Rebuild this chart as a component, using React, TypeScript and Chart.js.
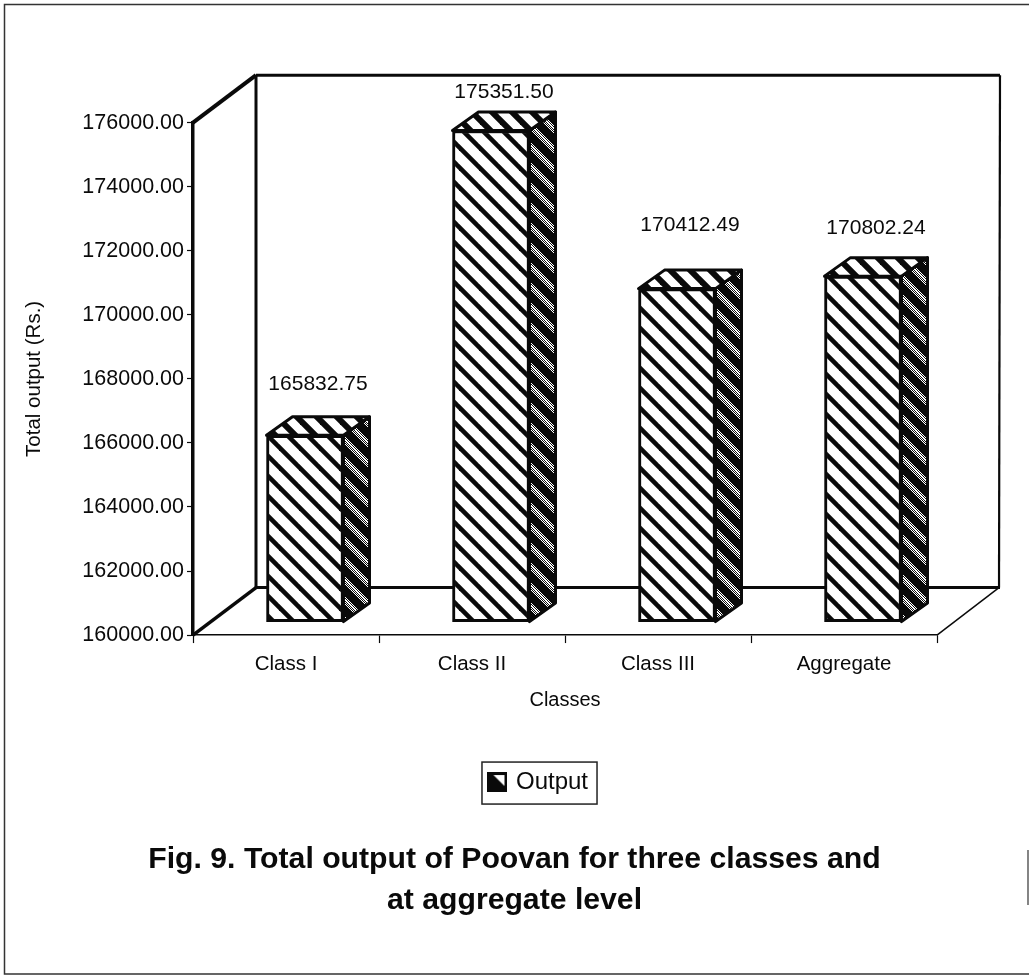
import React, { useEffect, useRef } from "react";
import { Chart, registerables } from "chart.js";

Chart.register(...registerables);

const categories = ["Class I", "Class II", "Class III", "Aggregate"];
const outputValues = [165832.75, 175351.5, 170412.49, 170802.24];
const baseValue = 160000;
const seriesName = "Output";
const figureTitle = [
  "Fig. 9. Total output of Poovan for three classes and",
  "at aggregate level",
];
const yAxisTitle = "Total output (Rs.)";
const xAxisTitle = "Classes";
// Height of each value label above its bar's value position.
const labelLift = [64, 51, 76, 61];

const FONT = "'Liberation Sans', Arial, sans-serif";
const INK = "#0a0a0a";

// Pseudo-3D geometry, in pixels.
const ROOM_DX = 63;
const ROOM_DY = 47.5;
const BAR_SHIFT_X = 19;
const BAR_SHIFT_Y = 13;
const BAR_DEPTH_X = 26;
const BAR_DEPTH_Y = 18.5;
const LEGEND_SHIFT = 71;
const TITLE_SHIFT = 46;

function tile(size: number, paint: (c: CanvasRenderingContext2D) => void) {
  const cv = document.createElement("canvas");
  cv.width = size;
  cv.height = size;
  paint(cv.getContext("2d")!);
  return cv;
}

function stripedTile(width: number) {
  return tile(20, (c) => {
    c.fillStyle = "#fff";
    c.fillRect(0, 0, 20, 20);
    c.strokeStyle = INK;
    c.lineWidth = width;
    for (let k = -1; k <= 1; k++) {
      c.beginPath();
      c.moveTo(-5, -5 + k * 20);
      c.lineTo(25, 25 + k * 20);
      c.stroke();
    }
  });
}

// Dark face with a speckled light band running through it.
function speckledTile() {
  return tile(20, (c) => {
    c.fillStyle = INK;
    c.fillRect(0, 0, 20, 20);
    c.fillStyle = "#fff";
    for (let y = 0; y < 20; y++) {
      for (let x = 0; x < 20; x++) {
        const band = (x - y + 40) % 20;
        if (band >= 1 && band <= 9 && (x * 7 + y * 13) % 5 < 3) c.fillRect(x, y, 1, 1);
      }
    }
  });
}

function legendSwatch() {
  return tile(20, (c) => {
    c.fillStyle = INK;
    c.fillRect(0, 0, 20, 20);
    c.fillStyle = "#fff";
    c.beginPath();
    c.moveTo(6, 3);
    c.lineTo(17, 3);
    c.lineTo(17, 14);
    c.closePath();
    c.fill();
  });
}

function polyline(c: CanvasRenderingContext2D, width: number, pts: number[][]) {
  c.lineWidth = width;
  c.beginPath();
  pts.forEach(([x, y], i) => (i ? c.lineTo(x, y) : c.moveTo(x, y)));
  c.stroke();
}

const roomPlugin = {
  id: "room",
  beforeDraw(chart: any) {
    const c = chart.ctx;
    c.save();
    c.strokeStyle = "#333";
    polyline(c, 1.5, [[1029, 4.5], [4.5, 4.5], [4.5, 974], [1029, 974]]);
    polyline(c, 1.2, [[1028, 850], [1028, 905]]);
    c.restore();
  },
  beforeDatasetsDraw(chart: any) {
    const { left, right, top, bottom } = chart.chartArea;
    const c = chart.ctx;
    const bx = left + ROOM_DX;
    const rx = right + ROOM_DX;
    const by = bottom - ROOM_DY;
    const ty = top - ROOM_DY;
    c.save();
    c.strokeStyle = INK;
    c.lineJoin = "miter";
    polyline(c, 4, [[left, top], [bx, ty]]);
    polyline(c, 3, [[bx, ty], [rx, ty]]);
    polyline(c, 3, [[bx, ty], [bx, by], [rx, by]]);
    polyline(c, 2.2, [[rx, ty], [rx - 1, by]]);
    polyline(c, 3.5, [[left, bottom], [bx, by]]);
    polyline(c, 1.5, [[right, bottom], [rx - 1, by]]);
    c.restore();
  },
  beforeDatasetDraw(chart: any) {
    chart.ctx.save();
    chart.ctx.translate(BAR_SHIFT_X, -BAR_SHIFT_Y);
  },
  afterDatasetDraw(chart: any) {
    chart.ctx.restore();
  },
  afterDatasetsDraw(chart: any) {
    const c = chart.ctx;
    const bars = chart.getDatasetMeta(0).data;
    const { side, roof } = chart.options.plugins.room;
    c.save();
    c.strokeStyle = INK;
    c.lineWidth = 3;
    c.lineJoin = "round";
    bars.forEach((bar: any, i: number) => {
      const half = bar.width / 2;
      const l = bar.x - half + BAR_SHIFT_X;
      const r = bar.x + half + BAR_SHIFT_X;
      const t = bar.y - BAR_SHIFT_Y;
      const b = bar.base - BAR_SHIFT_Y;
      const faces: [any, number[][]][] = [
        [side, [[r, t], [r + BAR_DEPTH_X, t - BAR_DEPTH_Y], [r + BAR_DEPTH_X, b - BAR_DEPTH_Y], [r, b]]],
        [roof, [[l, t], [l + BAR_DEPTH_X, t - BAR_DEPTH_Y], [r + BAR_DEPTH_X, t - BAR_DEPTH_Y], [r, t]]],
      ];
      faces.forEach(([fill, pts]) => {
        c.fillStyle = fill;
        c.beginPath();
        pts.forEach(([x, y], k) => (k ? c.lineTo(x, y) : c.moveTo(x, y)));
        c.closePath();
        c.fill();
        c.stroke();
      });
      c.fillStyle = INK;
      c.font = `21px ${FONT}`;
      c.textAlign = "center";
      c.textBaseline = "middle";
      c.fillText(outputValues[i].toFixed(2), bar.x + 32, bar.y - labelLift[i]);
    });
    c.restore();
  },
  afterLayout(chart: any) {
    const legend = chart.legend;
    legend.left += LEGEND_SHIFT;
    legend.right += LEGEND_SHIFT;
    legend.legendHitBoxes.forEach((h: any) => (h.left += LEGEND_SHIFT));
    chart.titleBlock.left += TITLE_SHIFT;
    chart.titleBlock.right += TITLE_SHIFT;
  },
  afterDraw(chart: any) {
    const hit = chart.legend.legendHitBoxes[0];
    const c = chart.ctx;
    c.save();
    c.strokeStyle = "#222";
    c.lineWidth = 1.5;
    c.strokeRect(hit.left - 9, chart.legend.top, hit.width + 18, chart.legend.height);
    c.restore();
  },
};

export default function App() {
  const canvasRef = useRef<HTMLCanvasElement>(null);

  useEffect(() => {
    const canvas = canvasRef.current!;
    const ctx = canvas.getContext("2d")!;
    const front = ctx.createPattern(stripedTile(4.6), "repeat")!;
    const roof = ctx.createPattern(stripedTile(6), "repeat")!;
    const side = ctx.createPattern(speckledTile(), "repeat")!;
    const swatch = legendSwatch();

    const chart = new Chart(canvas, {
      type: "bar",
      data: {
        labels: categories,
        datasets: [
          {
            label: seriesName,
            data: outputValues,
            base: baseValue,
            backgroundColor: front,
            borderColor: INK,
            borderWidth: 3,
            borderSkipped: false,
            barThickness: 77,
            clip: false,
            pointStyle: swatch,
          } as any,
        ],
      },
      options: {
        animation: false,
        responsive: false,
        devicePixelRatio: 1,
        layout: { padding: { top: 122.7, right: 92, left: 0, bottom: 33.3 } },
        scales: {
          x: {
            afterFit: (s: any) => {
              s.height = 127;
            },
            grid: {
              drawOnChartArea: false,
              color: INK,
              tickLength: 8,
              tickWidth: 1.2,
            },
            border: { color: INK, width: 1.6 },
            ticks: {
              color: INK,
              padding: 9,
              maxRotation: 0,
              autoSkip: false,
              font: { family: FONT, size: 20.5 },
            },
            title: {
              display: true,
              text: xAxisTitle,
              color: INK,
              padding: { top: 0, bottom: 50 },
              font: { family: FONT, size: 20 },
            },
          },
          y: {
            min: baseValue,
            max: 176000,
            afterFit: (s: any) => {
              s.width = 193;
            },
            grid: {
              drawOnChartArea: false,
              color: INK,
              tickLength: 6,
              tickWidth: 1.2,
            },
            border: { color: INK, width: 3.5 },
            ticks: {
              color: INK,
              stepSize: 2000,
              padding: 3,
              font: { family: FONT, size: 21.5 },
              callback: (v: any) => Number(v).toFixed(2),
            },
            title: {
              display: true,
              text: yAxisTitle,
              color: INK,
              padding: { top: 22, bottom: 0 },
              font: { family: FONT, size: 20.5 },
            },
          },
        },
        plugins: {
          tooltip: { enabled: false },
          room: { side, roof },
          legend: {
            display: true,
            position: "bottom",
            labels: {
              usePointStyle: true,
              pointStyleWidth: 13,
              padding: 8,
              color: INK,
              font: { family: FONT, size: 24 },
            },
          },
          title: {
            display: true,
            position: "bottom",
            text: figureTitle,
            color: INK,
            align: "center",
            padding: { top: 35.5, bottom: 20 },
            font: { family: FONT, size: 30.2, weight: "bold", lineHeight: 1.36 },
          },
        } as any,
      },
      plugins: [roomPlugin],
    });
    return () => chart.destroy();
  }, []);

  return (
    <canvas
      ref={canvasRef}
      width={1029}
      height={975}
      style={{ position: "absolute", left: 0, top: 0 }}
    />
  );
}
